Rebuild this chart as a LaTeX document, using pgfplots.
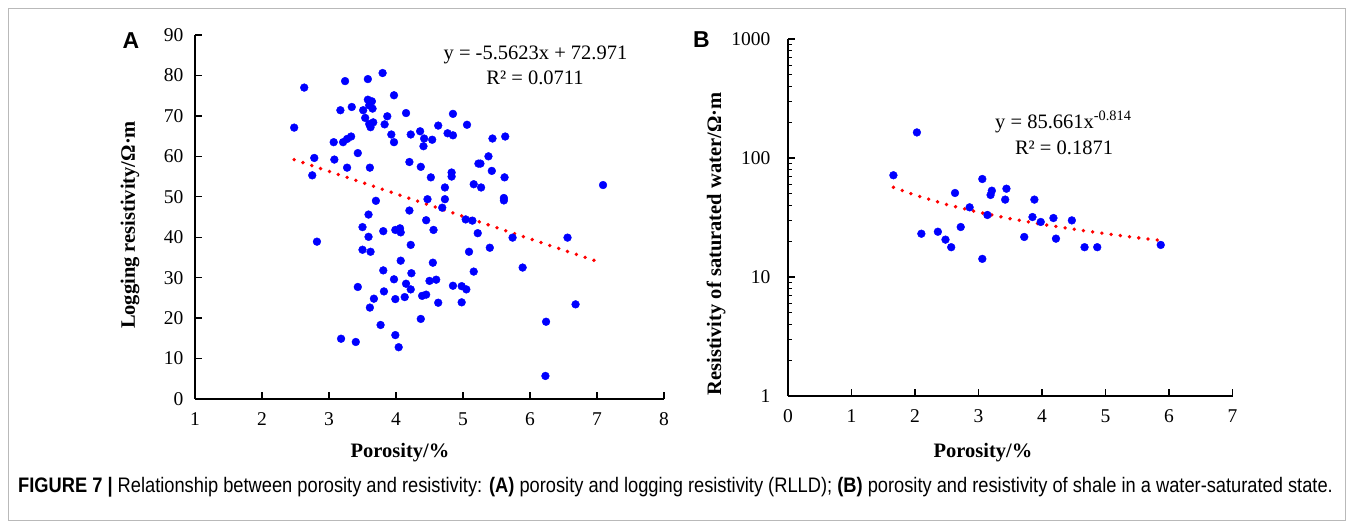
\documentclass[border=0pt]{standalone}
\usepackage{fontspec}
\setmainfont{Liberation Serif}
\newfontfamily\capfont[FakeStretch=0.87]{Liberation Sans}
\newfontfamily\panelfont{Liberation Sans}
\usepackage{pgfplots}
\pgfplotsset{compat=1.18}
\usepackage{pgfplotstable}

\pgfplotstableread{
x y
2.63 77.0
2.48 67.1
3.24 78.6
3.58 79.1
3.80 80.6
3.97 75.1
3.17 71.4
3.34 72.2
3.51 71.4
3.58 74.0
3.64 73.6
3.60 72.6
3.65 71.8
3.54 69.5
3.60 68.0
3.66 68.4
3.62 67.2
3.87 69.9
3.83 67.9
4.15 70.7
4.85 70.5
3.93 65.4
3.97 63.5
3.07 63.5
3.21 63.5
3.27 64.3
3.33 64.9
4.22 65.4
4.36 66.2
4.42 64.4
4.54 64.1
4.41 62.5
4.63 67.6
4.77 65.7
4.85 65.2
3.43 60.8
2.78 59.6
3.08 59.2
2.75 55.3
3.27 57.2
3.61 57.2
4.20 58.6
4.37 57.4
4.52 54.8
4.83 56.0
4.83 55.0
4.73 52.3
3.70 49.0
4.47 49.4
4.73 49.4
4.69 47.3
3.59 45.6
4.20 46.6
4.45 44.2
2.82 38.9
3.50 42.5
3.59 40.1
3.50 36.9
3.62 36.4
3.81 41.5
3.99 41.8
4.06 42.2
4.07 41.2
4.56 41.8
4.22 38.1
4.07 34.2
4.55 33.7
3.81 31.8
4.23 31.1
3.97 29.6
4.15 28.5
4.22 27.1
4.50 29.2
4.60 29.5
4.85 28.0
4.98 27.9
3.43 27.7
3.82 26.6
3.67 24.8
3.61 22.6
3.99 24.7
4.13 25.2
4.39 25.5
4.45 25.8
4.63 23.8
4.98 23.9
4.37 19.8
3.77 18.3
3.99 15.8
3.18 14.9
3.40 14.1
4.04 12.8
5.06 67.8
5.44 64.4
5.63 64.9
5.38 60.0
5.23 58.2
5.26 58.2
5.43 56.4
5.62 54.8
5.16 53.1
5.27 52.3
5.61 49.7
5.61 49.1
7.09 52.9
5.04 44.4
5.14 44.1
5.22 41.0
5.74 39.9
6.56 39.9
5.09 36.4
5.40 37.4
5.89 32.5
5.16 31.5
5.05 27.1
6.68 23.4
6.24 19.1
6.23 5.7
}\dataA

\pgfplotstableread{
x y
2.03 164
1.66 71.6
3.06 66.6
2.63 50.8
3.21 53.1
3.19 48.9
3.44 55.2
3.42 44.7
3.88 44.7
2.86 38.5
3.14 33.2
3.85 31.9
3.98 29.0
4.18 31.3
4.47 29.9
2.72 26.3
2.10 23.1
2.36 24.0
2.48 20.6
2.57 17.8
3.72 21.7
4.22 21.0
4.67 17.8
4.87 17.8
3.06 14.2
5.87 18.6
}\dataB

\pgfplotstableread{
x y
2.48 59.18
7.05 33.76
}\trendA

\pgfplotstableread{
x y
1.66 56.7
2.0 48.72
2.5 40.63
3.0 35.03
3.5 30.90
4.0 27.72
4.5 25.19
5.0 23.11
5.5 21.39
5.87 20.28
}\trendB

\pgfplotsset{
 myaxis/.style={
  scale only axis, axis x line=bottom, axis y line=left,
  axis line style={-, line width=1.6pt, black},
  tick align=inside, major tick length=7pt, minor tick length=4pt,
  every tick/.style={black, line width=1.3pt},
  tick label style={font=\fontsize{19.5}{22}\selectfont},
  /pgf/number format/assume math mode=true,
  xticklabel shift=10pt,
  clip=false,
 },
 dots/.style={only marks, mark=*, mark size=3.9pt, color=blue, mark options={draw=blue, fill=blue}},
 trend/.style={red, line width=3.8pt, dash pattern=on 0pt off 9.3pt, line cap=round},
}

\begin{document}
\begin{tikzpicture}[x=1pt,y=1pt]
\useasboundingbox (0,0) rectangle (1354,529);
\draw[gray!55, line width=1pt] (8.5,8.5) rectangle (1345.5,520.5);

\begin{axis}[myaxis, at={(195pt,130pt)}, anchor=south west, width=469pt, height=364pt,
  xmin=1, xmax=8, ymin=0, ymax=90, xtick={1,...,8}, ytick={0,10,...,90},
  yticklabel shift=8pt]
\addplot[dots] table {\dataA};
\addplot[trend] table {\trendA};
\end{axis}

\begin{axis}[myaxis, at={(788pt,133pt)}, anchor=south west, width=444.5pt, height=357pt,
  xmin=0, xmax=7, ymode=log, ymin=1, ymax=1000, xtick={0,...,7},
  ytick={1,10,100,1000}, yticklabels={1,10,100,1000},
  minor ytick={2,3,4,5,6,7,8,9,20,30,40,50,60,70,80,90,200,300,400,500,600,700,800,900},
  yticklabel shift=14pt]
\addplot[dots] table {\dataB};
\addplot[trend] table {\trendB};
\end{axis}

% equations
\node[anchor=base, font=\fontsize{20.5}{24}\selectfont] at (535.5,469.7) {y = -5.5623x + 72.971};
\node[anchor=base, font=\fontsize{20.5}{24}\selectfont] at (535,444.7) {R² = 0.0711};
\node[anchor=base west, font=\fontsize{20.5}{24}\selectfont, inner sep=0pt] at (995,400.7) {y = 85.661x\textsuperscript{-0.814}};
\node[anchor=base, font=\fontsize{20.5}{24}\selectfont] at (1064,374.7) {R² = 0.1871};

% axis titles
\node[rotate=90, font=\bfseries\fontsize{20.5}{24}\selectfont] at (130,304) {Logging resistivity/Ω·m};
\node[rotate=90, font=\bfseries\fontsize{20.5}{24}\selectfont] at (716,285) {Resistivity of saturated water/Ω·m};
\node[anchor=base, font=\bfseries\fontsize{20.5}{24}\selectfont] at (400,71) {Porosity/\%};
\node[anchor=base, font=\bfseries\fontsize{20.5}{24}\selectfont] at (983,71) {Porosity/\%};

% panel letters
\node[font=\panelfont\bfseries\fontsize{23}{26}\selectfont] at (131,488) {A};
\node[font=\panelfont\bfseries\fontsize{23}{26}\selectfont] at (701.5,489) {B};

% caption
\node[anchor=base west, inner sep=0pt, font=\capfont\fontsize{21}{24}\selectfont] at (18,36)
 {\textbf{FIGURE 7 |} Relationship between porosity and resistivity: \textbf{(A)} porosity and logging resistivity (RLLD); \textbf{(B)} porosity and resistivity of shale in a water-saturated state.};
\end{tikzpicture}
\end{document}
